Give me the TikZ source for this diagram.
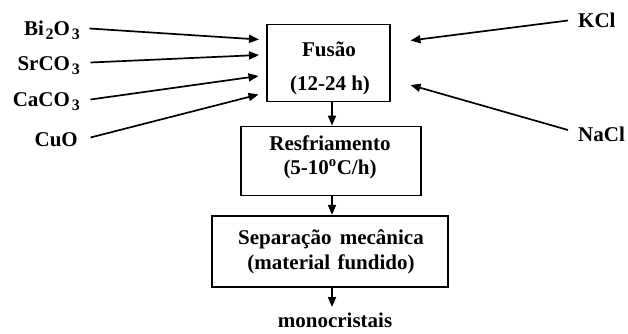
\documentclass[tikz,border=0pt]{standalone}
\usepackage{fontspec}
\setmainfont{Liberation Serif}
\usetikzlibrary{arrows.meta}
\newcommand{\sbs}[1]{\kern1.8pt\raisebox{-4.5pt}{\fontsize{16}{16}\selectfont #1}}
\begin{document}
\begin{tikzpicture}[x=1pt,y=-1pt,
  txt/.style={font=\bfseries\fontsize{21}{24}\selectfont, inner sep=0pt, anchor=base},
  boxn/.style={draw, line width=1.8pt, inner sep=0pt},
  arr/.style={line width=1.7pt, -{Triangle[length=10pt,width=8pt]}}]
\useasboundingbox (0,0) rectangle (628,333);
% boxes
\node[boxn, minimum width=123pt, minimum height=77pt] (fus) at (328.5,63) {};
\node[boxn, minimum width=180pt, minimum height=69pt] (res) at (331,161) {};
\node[boxn, minimum width=235.5pt, minimum height=71.5pt] (sep) at (330,251.5) {};
% box texts
\node[txt] (fus1) at (329,56) {Fusão};
\node[txt] (fus2) at (330,90) {(12-24 h)};
\node[txt] (res1) at (330,150.5) {Resfriamento};
\node[txt] (res2) at (330,174) {(5-10\textsuperscript{o}C/h)};
\node[txt] (sep1) at (331,244) {Separação\hspace{3pt} mecânica};
\node[txt] (sep2) at (331,269.5) {(material\hspace{2pt} fundido)};
\node[txt] (mono) at (335,327.5) {monocristais};
% left inputs
\node[txt, anchor=base east] (bi) at (80,35) {Bi\sbs{2}O\sbs{3}};
\node[txt, anchor=base east] (sr) at (80,70) {SrCO\sbs{3}};
\node[txt, anchor=base east] (ca) at (80,106) {CaCO\sbs{3}};
\node[txt, anchor=base east] (cu) at (78,146) {CuO};
% right inputs
\node[txt, anchor=base west] (kcl) at (578,27) {KCl};
\node[txt, anchor=base west] (nacl) at (578,141) {NaCl};
% input arrow ends
\coordinate (b1) at (89.5,28.5);
\coordinate (s1) at (90.5,62.5);
\coordinate (c1) at (90.5,99.5);
\coordinate (u1) at (90.5,137.5);
\coordinate (k1) at (568,20.5);
\coordinate (n1) at (568,130);
\draw[arr] (b1) -- (259,39.5);
\draw[arr] (s1) -- (259,55);
\draw[arr] (c1) -- (258.5,76);
\draw[arr] (u1) -- (258.5,94.5);
\draw[arr] (k1) -- (410.5,40.5);
\draw[arr] (n1) -- (410.5,85);
% vertical flow
\draw[arr] (fus.south -| 332,0) -- (res.north -| 332,0);
\draw[arr] (res.south -| 332,0) -- (sep.north -| 332,0);
\draw[arr] (sep.south -| 332,0) -- (332,307);
\end{tikzpicture}
\end{document}
